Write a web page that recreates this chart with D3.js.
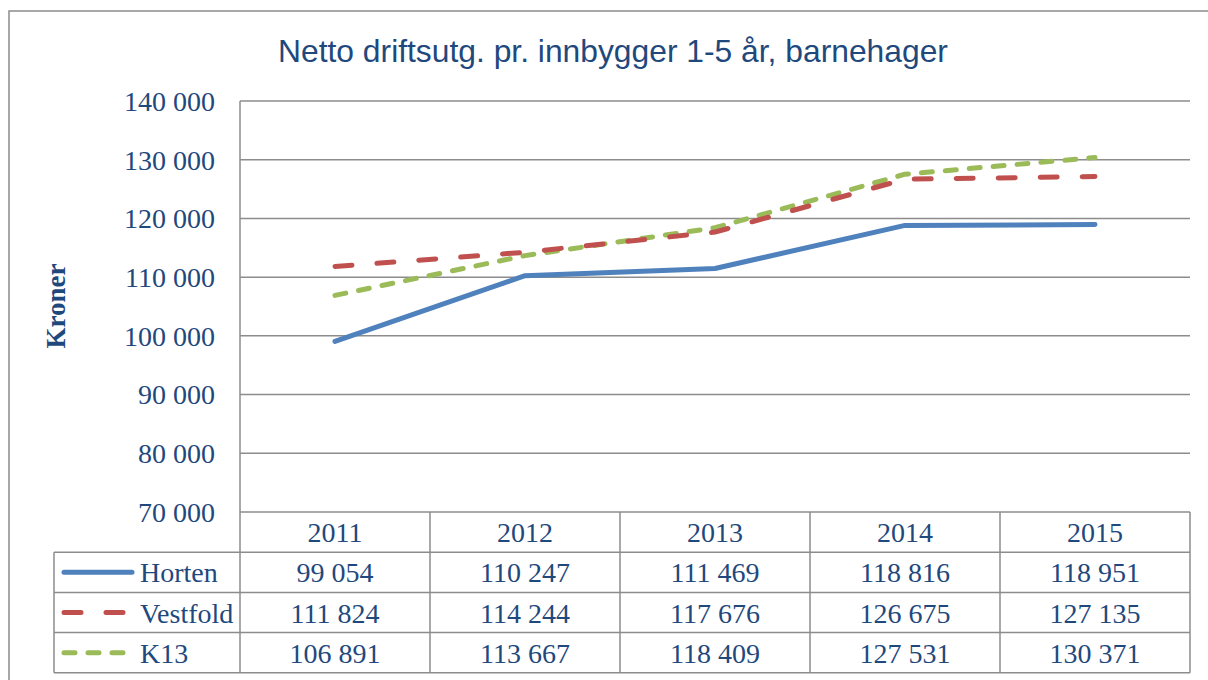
<!DOCTYPE html>
<html>
<head>
<meta charset="utf-8">
<script src="https://cdn.jsdelivr.net/npm/d3@7"></script>
<style>
  body { margin: 0; background: #fff; }
  svg { display: block; }
</style>
</head>
<body>
<div id="chart"></div>
<script>
var years = ["2011", "2012", "2013", "2014", "2015"];
var horten = [99054, 110247, 111469, 118816, 118951];
var vestfold = [111824, 114244, 117676, 126675, 127135];
var k13 = [106891, 113667, 118409, 127531, 130371];
var yTicks = [70000, 80000, 90000, 100000, 110000, 120000, 130000, 140000];

var series = [
  { name: "Horten", values: horten, color: "#4F81BD", dash: null },
  { name: "Vestfold", values: vestfold, color: "#C0504D", dash: "17,25" },
  { name: "K13", values: k13, color: "#9BBB59", dash: "11,13" }
];

var W = 1208, H = 680,
    textCol = "#1F497D",
    gridCol = "#8c8c8c",
    serif = "'Liberation Serif', 'Times New Roman', serif";

var plot = { left: 240, right: 1190, top: 101, bottom: 512 },
    rowH = 40.2,
    legendLeft = 54;

var svg = d3.select("#chart").append("svg")
  .attr("width", W).attr("height", H);

// outer frame (runs off the right and bottom edges)
svg.append("rect")
  .attr("x", 9).attr("y", 11)
  .attr("width", 1240).attr("height", 720)
  .attr("fill", "#fff")
  .attr("stroke", gridCol).attr("stroke-width", 1.5);

// title
svg.append("text")
  .attr("x", 613).attr("y", 62)
  .attr("text-anchor", "middle")
  .attr("font-family", "'Liberation Sans', Arial, sans-serif")
  .attr("font-size", 31.8)
  .attr("fill", textCol)
  .text("Netto driftsutg. pr. innbygger 1-5 år, barnehager");

var x = d3.scaleBand().domain(years).range([plot.left, plot.right]);
var y = d3.scaleLinear().domain([70000, 140000]).range([plot.bottom, plot.top]);

var fmt = function (v) {
  return d3.format(",")(v).replace(/,/g, " ");
};

// gridlines
svg.append("g").selectAll("line")
  .data(yTicks).enter().append("line")
  .attr("x1", plot.left).attr("x2", plot.right)
  .attr("y1", function (d) { return y(d); })
  .attr("y2", function (d) { return y(d); })
  .attr("stroke", gridCol).attr("stroke-width", 1.5);

// y axis labels
svg.append("g").selectAll("text")
  .data(yTicks).enter().append("text")
  .attr("x", 215)
  .attr("y", function (d) { return y(d); })
  .attr("dy", "0.35em")
  .attr("text-anchor", "end")
  .attr("font-family", serif)
  .attr("font-size", 28)
  .attr("fill", textCol)
  .text(fmt);

// y axis title
svg.append("text")
  .attr("transform", "translate(65,306) rotate(-90)")
  .attr("text-anchor", "middle")
  .attr("font-family", serif)
  .attr("font-weight", "bold")
  .attr("font-size", 27)
  .attr("fill", textCol)
  .text("Kroner");

// data table below the plot
var tableBottom = plot.bottom + rowH * (series.length + 1);
var tg = svg.append("g")
  .attr("stroke", gridCol).attr("stroke-width", 1.5).attr("fill", "none");

// left axis line down through the table
tg.append("line")
  .attr("x1", plot.left).attr("x2", plot.left)
  .attr("y1", plot.top).attr("y2", tableBottom);

// column separators in table
years.forEach(function (yr) {
  var xr = x(yr) + x.bandwidth();
  tg.append("line")
    .attr("x1", xr).attr("x2", xr)
    .attr("y1", plot.bottom).attr("y2", tableBottom);
});

// row lines
d3.range(series.length + 1).forEach(function (i) {
  var yy = plot.bottom + rowH * (i + 1);
  tg.append("line")
    .attr("x1", legendLeft).attr("x2", plot.right)
    .attr("y1", yy).attr("y2", yy);
});
tg.append("line")
  .attr("x1", legendLeft).attr("x2", legendLeft)
  .attr("y1", plot.bottom + rowH).attr("y2", tableBottom);

// header years
svg.append("g").selectAll("text")
  .data(years).enter().append("text")
  .attr("x", function (d) { return x(d) + x.bandwidth() / 2; })
  .attr("y", plot.bottom + rowH / 2)
  .attr("dy", "0.36em")
  .attr("text-anchor", "middle")
  .attr("font-family", serif)
  .attr("font-size", 28)
  .attr("fill", textCol)
  .text(function (d) { return d; });

// series rows
series.forEach(function (s, i) {
  var cy = plot.bottom + rowH * (i + 1.5);
  var row = svg.append("g");

  row.append("line")
    .attr("x1", 64).attr("x2", 132)
    .attr("y1", cy).attr("y2", cy)
    .attr("stroke", s.color).attr("stroke-width", 5)
    .attr("stroke-linecap", "round")
    .attr("stroke-dasharray", s.dash);

  row.append("text")
    .attr("x", 140).attr("y", cy)
    .attr("dy", "0.36em")
    .attr("font-family", serif)
    .attr("font-size", 28)
    .attr("fill", textCol)
    .text(s.name);

  row.selectAll(".val")
    .data(s.values).enter().append("text")
    .attr("x", function (d, j) { return x(years[j]) + x.bandwidth() / 2; })
    .attr("y", cy)
    .attr("dy", "0.36em")
    .attr("text-anchor", "middle")
    .attr("font-family", serif)
    .attr("font-size", 28)
    .attr("fill", textCol)
    .text(fmt);
});

// lines
var line = d3.line()
  .x(function (d, j) { return x(years[j]) + x.bandwidth() / 2; })
  .y(function (d) { return y(d); });

svg.append("g").selectAll("path")
  .data(series.slice().reverse()).enter().append("path")
  .attr("d", function (s) { return line(s.values); })
  .attr("fill", "none")
  .attr("stroke", function (s) { return s.color; })
  .attr("stroke-width", 5)
  .attr("stroke-linecap", "round")
  .attr("stroke-linejoin", "round")
  .attr("stroke-dasharray", function (s) { return s.dash; });
</script>
</body>
</html>
